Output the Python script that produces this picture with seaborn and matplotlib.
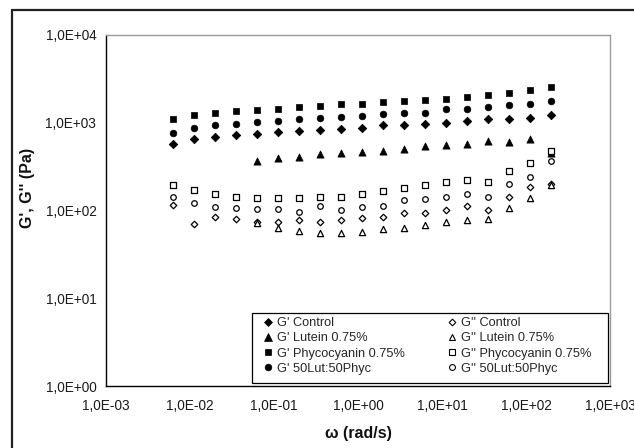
import numpy as np
import pandas as pd
import matplotlib
matplotlib.use("Agg")
import matplotlib.pyplot as plt
from matplotlib.ticker import FixedLocator, FuncFormatter, NullLocator
from matplotlib.lines import Line2D
from matplotlib.patches import Rectangle
import seaborn as sns

# Angular frequency (rad/s)
omega = [0.00628, 0.0112, 0.0199, 0.0353, 0.0628, 0.112, 0.199, 0.353, 0.628,
         1.12, 1.99, 3.53, 6.28, 11.2, 19.9, 35.3, 62.8, 112, 199]

nan = np.nan
# Storage modulus G' (Pa)
g1_control = [573, 653, 694, 731, 750, 778, 805, 837, 859, 878, 936, 950, 976,
              1002, 1039, 1095, 1103, 1133, 1225]
g1_lutein = [nan, nan, nan, nan, 370, 397, 410, 437, 456, 468, 480, 498, 547,
             557, 572, 615, 609, 658, 449]
g1_phyco = [1094, 1216, 1303, 1350, 1386, 1435, 1493, 1549, 1615, 1649, 1723,
            1769, 1832, 1880, 1950, 2071, 2200, 2361, 2535]
g1_mix = [759, 865, 936, 968, 1028, 1040, 1104, 1138, 1148, 1185, 1249, 1282,
          1303, 1423, 1446, 1500, 1593, 1622, 1782]

# Loss modulus G'' (Pa)
g2_control = [116, 71, 84, 79, 73, 73, 77, 73, 77, 82, 84, 93, 93, 100, 112,
              101, 144, 187, 199]
g2_lutein = [nan, nan, nan, nan, 71.5, 62.7, 58.9, 55, 55.8, 57.3, 61.5, 62.7,
             68.4, 73.4, 78, 80, 106, 140, 195]
g2_phyco = [195, 171, 154, 144, 140, 140, 140, 141, 141, 154, 167, 182, 194,
            210, 223, 210, 282, 345, 476]
g2_mix = [141, 123, 110, 106, 103, 103, 97, 113, 101, 110, 113, 132, 135, 144,
          154, 144, 199, 243, 366]

labels = ["G' Control", "G' Lutein 0.75%", "G' Phycocyanin 0.75%", "G' 50Lut:50Phyc",
          "G'' Control", "G'' Lutein 0.75%", "G'' Phycocyanin 0.75%", "G'' 50Lut:50Phyc"]
values = [g1_control, g1_lutein, g1_phyco, g1_mix,
          g2_control, g2_lutein, g2_phyco, g2_mix]
markers = ["D", "^", "s", "o", "D", "^", "s", "o"]
filled = [True] * 4 + [False] * 4

y_ticks = [1e0, 1e1, 1e2, 1e3, 1e4]
x_ticks = [1e-3, 1e-2, 1e-1, 1e0, 1e1, 1e2, 1e3]

frames = []
for lab, vals in zip(labels, values):
    frames.append(pd.DataFrame({"omega": omega, "G": vals, "series": lab}))
df = pd.concat(frames, ignore_index=True).dropna()

sns.set_theme(style="white")
plt.rcParams["font.family"] = ["Liberation Sans", "DejaVu Sans"]

fig = plt.figure(figsize=(6.34, 4.48), dpi=100)
ax = fig.add_axes([106 / 634, 1 - 386 / 448, 504 / 634, 351 / 448])

# scatter sizes (pt^2) and legend marker sizes (pt)
fill_s = {"D": 19, "^": 27, "s": 25, "o": 23}
open_s = {"D": 11, "^": 20, "s": 15, "o": 16}
fill_ms = {"D": 4.0, "^": 5.4, "s": 4.8, "o": 4.8}
open_ms = {"D": 3.4, "^": 4.8, "s": 4.0, "o": 4.2}

handles = []
for lab, mk, fl in zip(labels, markers, filled):
    sub = df[df["series"] == lab]
    if fl:
        sns.scatterplot(data=sub, x="omega", y="G", ax=ax, marker=mk,
                        s=fill_s[mk], color="black", edgecolor="black",
                        linewidth=0.5, legend=False, zorder=3)
        handles.append(Line2D([], [], ls="none", marker=mk, markersize=fill_ms[mk],
                              markerfacecolor="black", markeredgecolor="black",
                              markeredgewidth=0.5, label=lab))
    else:
        sns.scatterplot(data=sub, x="omega", y="G", ax=ax, marker=mk,
                        s=open_s[mk], color="white", facecolor="white",
                        edgecolor="black", linewidth=0.9, legend=False, zorder=3)
        handles.append(Line2D([], [], ls="none", marker=mk, markersize=open_ms[mk],
                              markerfacecolor="white", markeredgecolor="black",
                              markeredgewidth=0.8, label=lab))

ax.set_xscale("log")
ax.set_yscale("log")
ax.set_xlim(1e-3, 1e3)
ax.set_ylim(1e0, 1e4)

fmt = FuncFormatter(lambda v, p: f"{v:.1E}".replace(".", ","))
ax.xaxis.set_major_locator(FixedLocator(x_ticks))
ax.yaxis.set_major_locator(FixedLocator(y_ticks))
ax.xaxis.set_minor_locator(NullLocator())
ax.yaxis.set_minor_locator(NullLocator())
ax.xaxis.set_major_formatter(fmt)
ax.yaxis.set_major_formatter(fmt)

ax.tick_params(axis="both", which="major", direction="out", length=4,
               width=0.9, color="black", labelsize=9.8, labelcolor="#1a1a1a")
ax.tick_params(axis="x", pad=5)
ax.tick_params(axis="y", pad=3)

for side in ["left", "bottom"]:
    ax.spines[side].set_color("black")
    ax.spines[side].set_linewidth(1.0)
for side in ["top", "right"]:
    ax.spines[side].set_color("#9a9a9a")
    ax.spines[side].set_linewidth(1.0)

ax.set_xlabel("ω (rad/s)", fontsize=11.5, fontweight="bold", color="#111111")
ax.set_ylabel("G', G'' (Pa)", fontsize=11.5, fontweight="bold", color="#111111")
ax.xaxis.set_label_coords(0.5, -0.115)
ax.yaxis.set_label_coords(-0.141, 0.564)

# legend box
ax.add_patch(Rectangle((145.7 / 504, 3.3 / 351), 356 / 504, 70 / 351,
                       transform=ax.transAxes, facecolor="white",
                       edgecolor="black", linewidth=0.9, zorder=4))
leg = ax.legend(handles=handles, ncol=2, loc="upper left",
                bbox_to_anchor=(157 / 504, 69 / 351), borderaxespad=0,
                borderpad=0, fontsize=9.2, frameon=False,
                handlelength=0.8, handletextpad=0.3, labelspacing=0.26,
                columnspacing=3.3)
leg.set_zorder(5)

# Chart-area border
fig.add_artist(Line2D([12 / 634, 12 / 634], [0, 1 - 10 / 448],
                      transform=fig.transFigure, color="#222222", lw=1.6))
fig.add_artist(Line2D([12 / 634, 1], [1 - 10 / 448, 1 - 10 / 448],
                      transform=fig.transFigure, color="#222222", lw=1.6))

fig.savefig("out.png", dpi=100)
